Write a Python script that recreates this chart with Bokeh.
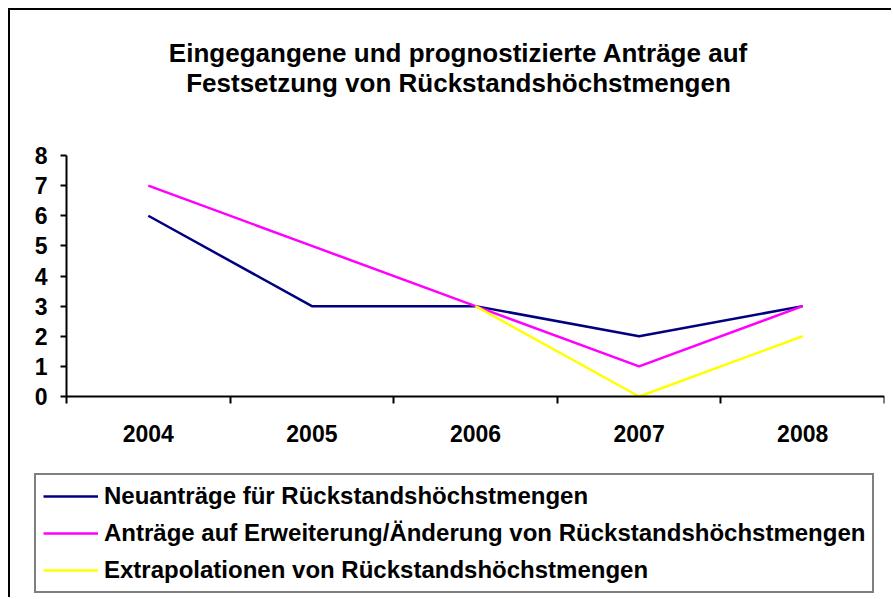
from bokeh.plotting import figure
from bokeh.models import Range1d, FixedTicker, Legend, LegendItem, Label
from bokeh.embed import file_html
from bokeh.resources import INLINE

years = ["2004", "2005", "2006", "2007", "2008"]
neu = [6, 3, 3, 2, 3]
erweiterung = [7, 5, 3, 1, 3]
extrapolation = [float("nan"), float("nan"), 3, 0, 2]
y_ticks = [0, 1, 2, 3, 4, 5, 6, 7, 8]

title_1 = "Eingegangene und prognostizierte Anträge auf"
title_2 = "Festsetzung von Rückstandshöchstmengen"
labels = ["Neuanträge für Rückstandshöchstmengen",
          "Anträge auf Erweiterung/Änderung von Rückstandshöchstmengen",
          "Extrapolationen von Rückstandshöchstmengen"]
colors = ["#000080", "#FF00FF", "#FFFF00"]

FONT = "Liberation Sans"

xs = [i + 0.5 for i in range(len(years))]
boundaries = list(range(len(years) + 1))

# The frame covers the whole chart area; the axes sit at x=0 / y=0 inside it,
# so the title and legend can be drawn in the frame without being clipped.
px_x = 163.6      # pixels per category
px_y = 30.125     # pixels per unit
x_start = -32 / px_x
y_start = -203 / px_y
y_end = 8 + 135 / px_y

p = figure(width=883, height=589, output_backend="svg", toolbar_location=None,
           x_range=Range1d(x_start, len(years)), y_range=Range1d(y_start, y_end),
           min_border_left=24, min_border_right=9, min_border_top=10,
           min_border_bottom=0, outline_line_color=None)
p.styles = {"margin-left": "8px", "margin-top": "8px",
            "border-left": "2px solid black", "border-top": "2px solid black"}
p.xgrid.visible = False
p.ygrid.visible = False

xa = p.xaxis[0]
xa.fixed_location = 0
xa.bounds = (0, len(years))
xa.ticker = FixedTicker(ticks=xs, minor_ticks=boundaries)
xa.major_label_overrides = {x: y for x, y in zip(xs, years)}
xa.axis_line_width = 2
xa.axis_line_color = "black"
xa.major_tick_line_color = None
xa.major_tick_out = 0
xa.major_tick_in = 0
xa.minor_tick_line_color = "black"
xa.minor_tick_line_width = 2
xa.minor_tick_out = 7
xa.minor_tick_in = 0
xa.major_label_text_font = FONT
xa.major_label_text_font_style = "bold"
xa.major_label_text_font_size = "23px"
xa.major_label_text_color = "black"
xa.major_label_standoff = 21

ya = p.yaxis[0]
ya.fixed_location = 0
ya.bounds = (0, 8)
ya.ticker = FixedTicker(ticks=y_ticks)
ya.axis_line_width = 2
ya.axis_line_color = "black"
ya.major_tick_line_width = 2
ya.major_tick_line_color = "black"
ya.major_tick_out = 6
ya.major_tick_in = 0
ya.minor_tick_line_color = None
ya.major_label_text_font = FONT
ya.major_label_text_font_style = "bold"
ya.major_label_text_font_size = "23px"
ya.major_label_text_color = "black"
ya.major_label_standoff = 13

r1 = p.line(xs, neu, line_color=colors[0], line_width=2.5)
r2 = p.line(xs, erweiterung, line_color=colors[1], line_width=2.5)
r3 = p.line(xs, extrapolation, line_color=colors[2], line_width=2.5)

legend = Legend(items=[LegendItem(label=labels[0], renderers=[r1]),
                       LegendItem(label=labels[1], renderers=[r2]),
                       LegendItem(label=labels[2], renderers=[r3])],
                location=(0, 6), orientation="vertical",
                border_line_color="black", border_line_width=2,
                label_text_font=FONT, label_text_font_style="bold",
                label_text_font_size="24px", label_text_color="black",
                glyph_width=55, glyph_height=22,
                label_height=22, spacing=9, padding=7, label_standoff=6,
                margin=0, background_fill_color="white", background_fill_alpha=1)
p.add_layout(legend, "center")

for txt, yy in ((title_1, 547), (title_2, 517)):
    p.add_layout(Label(x=424, y=yy, x_units="screen", y_units="screen", text=txt,
                       text_align="center", text_baseline="alphabetic",
                       text_font=FONT, text_font_style="bold",
                       text_font_size="26px", text_color="black"))

open("out.html", "w").write(file_html(p, INLINE))
